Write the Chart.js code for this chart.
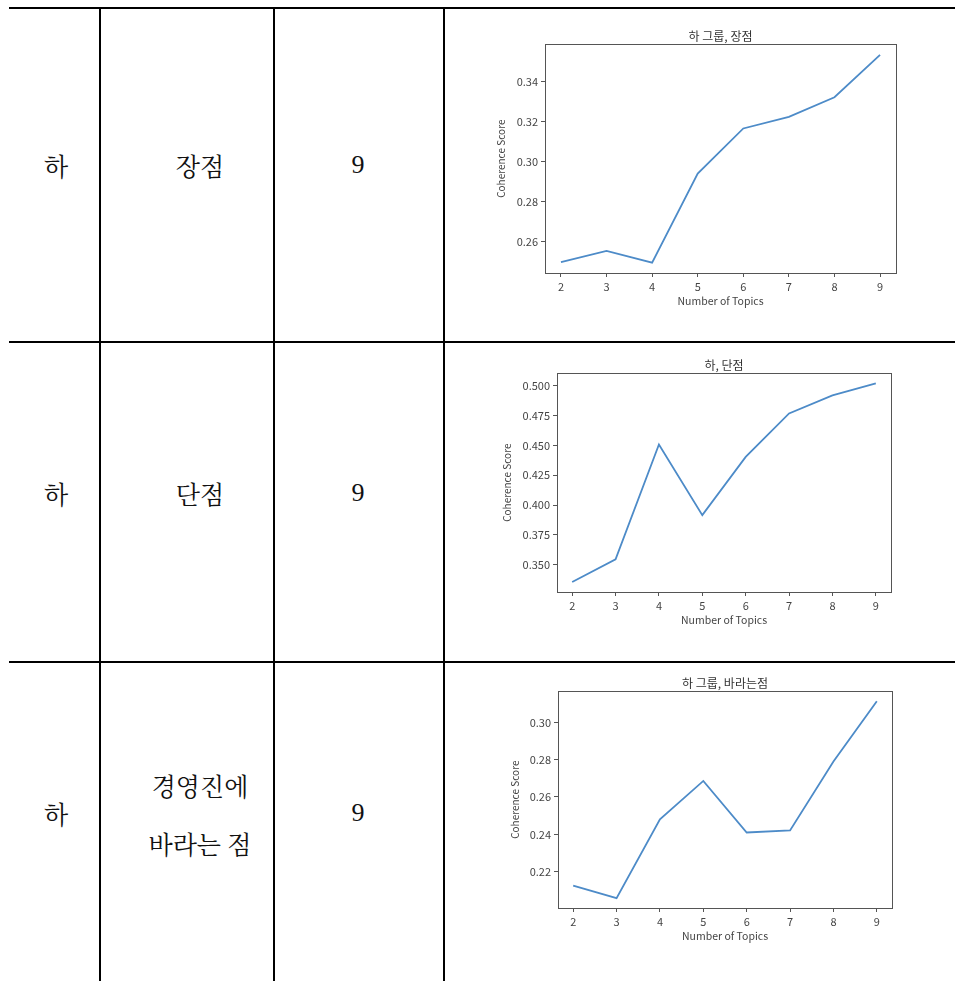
<!DOCTYPE html>
<html>
<head>
<meta charset="utf-8">
<script src="https://cdn.jsdelivr.net/npm/chart.js@4.4.0/dist/chart.umd.min.js"></script>
<style>
  html, body { margin: 0; padding: 0; background: #fff; }
  body { width: 955px; height: 981px; position: relative; overflow: hidden; }
  .hl { position: absolute; height: 2px; background: #000; }
  .vl { position: absolute; width: 2px; background: #000; }
  .txt { position: absolute; transform: translate(-50%, -50%); white-space: nowrap;
         font-family: "Noto Serif CJK KR", "Noto Sans CJK KR", serif; font-size: 25px; color: #111; }
  .num { font-family: "Liberation Serif", "DejaVu Serif", serif; font-size: 26px; }
  .cw { position: absolute; }
</style>
</head>
<body>
<div class="hl" style="left:9px; top:7px; width:946px;"></div>
<div class="hl" style="left:9px; top:341px; width:946px;"></div>
<div class="hl" style="left:9px; top:661px; width:946px;"></div>
<div class="vl" style="left:99px; top:8px; height:973px;"></div>
<div class="vl" style="left:273px; top:8px; height:973px;"></div>
<div class="vl" style="left:443px; top:8px; height:973px;"></div>

<div class="txt" style="left:56px; top:165px;">하</div>
<div class="txt" style="left:200px; top:165px;">장점</div>
<div class="txt num" style="left:358px; top:165px;">9</div>

<div class="txt" style="left:56px; top:493px;">하</div>
<div class="txt" style="left:200px; top:493px;">단점</div>
<div class="txt num" style="left:358px; top:493px;">9</div>

<div class="txt" style="left:56px; top:813px;">하</div>
<div class="txt" style="left:200px; top:785px;">경영진에</div>
<div class="txt" style="left:200px; top:843px;">바라는 점</div>
<div class="txt num" style="left:358px; top:813px;">9</div>

<div class="cw" style="left:490px; top:25px; width:420px; height:290px;"><canvas id="c1"></canvas></div>
<div class="cw" style="left:496px; top:354px; width:414px; height:280px;"><canvas id="c2"></canvas></div>
<div class="cw" style="left:504px; top:672px; width:406px; height:278px;"><canvas id="c3"></canvas></div>

<script>
// ---- data ----
const topics = [2, 3, 4, 5, 6, 7, 8, 9];
const strengthScores = [0.2500, 0.2555, 0.2497, 0.2942, 0.3167, 0.3225, 0.3323, 0.3535];
const weaknessScores = [0.3354, 0.3545, 0.4507, 0.3915, 0.4403, 0.4768, 0.4919, 0.5020];
const wishScores     = [0.2125, 0.2058, 0.2480, 0.2686, 0.2410, 0.2421, 0.2790, 0.3113];
const titles = ["하 그룹, 장점", "하, 단점", "하 그룹, 바라는점"];
const yTicks1 = [0.26, 0.28, 0.30, 0.32, 0.34];
const yTicks2 = [0.350, 0.375, 0.400, 0.425, 0.450, 0.475, 0.500];
const yTicks3 = [0.22, 0.24, 0.26, 0.28, 0.30];
const xLabel = "Number of Topics";
const yLabel = "Coherence Score";

const FONT = '"Noto Sans CJK KR", "Noto Sans", sans-serif';

const framePlugin = {
  id: 'frame',
  afterDraw(chart) {
    const a = chart.chartArea, ctx = chart.ctx;
    ctx.save();
    ctx.strokeStyle = '#555';
    ctx.lineWidth = 1;
    ctx.strokeRect(Math.round(a.left) + 0.5, Math.round(a.top) + 0.5,
                   Math.round(a.right - a.left), Math.round(a.bottom - a.top));
    ctx.restore();
  }
};

function makeChart(id, title, values, yTicks, decimals, yWidth, padRight) {
  const lo = Math.min(...values), hi = Math.max(...values);
  const m = (hi - lo) * 0.05;
  const xlo = topics[0], xhi = topics[topics.length - 1];
  const xm = (xhi - xlo) * 0.05;
  new Chart(document.getElementById(id), {
    type: 'line',
    data: {
      datasets: [{
        data: topics.map((t, i) => ({ x: t, y: values[i] })),
        borderColor: '#4d8bc8',
        borderWidth: 1.8,
        pointRadius: 0,
        tension: 0,
        fill: false
      }]
    },
    options: {
      responsive: true,
      maintainAspectRatio: false,
      animation: false,
      layout: { padding: { left: 0, top: 0, bottom: 0, right: padRight } },
      plugins: {
        legend: { display: false },
        tooltip: { enabled: false },
        title: {
          display: true, text: title, fullSize: false,
          color: '#333', font: { family: FONT, size: 12, weight: 'normal', lineHeight: 1.2 },
          padding: { top: 4, bottom: 1 }
        }
      },
      scales: {
        x: {
          type: 'linear', min: xlo - xm, max: xhi + xm,
          afterBuildTicks: s => { s.ticks = topics.map(v => ({ value: v })); },
          afterFit: s => { s.height = 42; },
          grid: { display: true, drawOnChartArea: false, drawTicks: true, tickLength: 4, color: '#555' },
          border: { display: false },
          ticks: { color: '#444', padding: 3, font: { family: FONT, size: 11, lineHeight: 1.2 },
                   maxRotation: 0, callback: v => String(v) },
          title: { display: true, text: xLabel, color: '#444',
                   font: { family: FONT, size: 10.5, lineHeight: 1.2 }, padding: { top: 0, bottom: 8 } }
        },
        y: {
          type: 'linear', min: lo - m, max: hi + m,
          afterBuildTicks: s => { s.ticks = yTicks.map(v => ({ value: v })); },
          afterFit: s => { s.width = yWidth; },
          grid: { display: true, drawOnChartArea: false, drawTicks: true, tickLength: 4, color: '#555' },
          border: { display: false },
          ticks: { color: '#444', padding: 3, font: { family: FONT, size: 11, lineHeight: 1.2 },
                   callback: v => Number(v).toFixed(decimals) },
          title: { display: true, text: yLabel, color: '#444',
                   font: { family: FONT, size: 10, lineHeight: 1.2 }, padding: { top: 5, bottom: 0 } }
        }
      }
    },
    plugins: [framePlugin]
  });
}

makeChart('c1', titles[0], strengthScores, yTicks1, 2, 55, 14);
makeChart('c2', titles[1], weaknessScores, yTicks2, 3, 61, 19);
makeChart('c3', titles[2], wishScores, yTicks3, 2, 54, 18);
</script>
</body>
</html>
